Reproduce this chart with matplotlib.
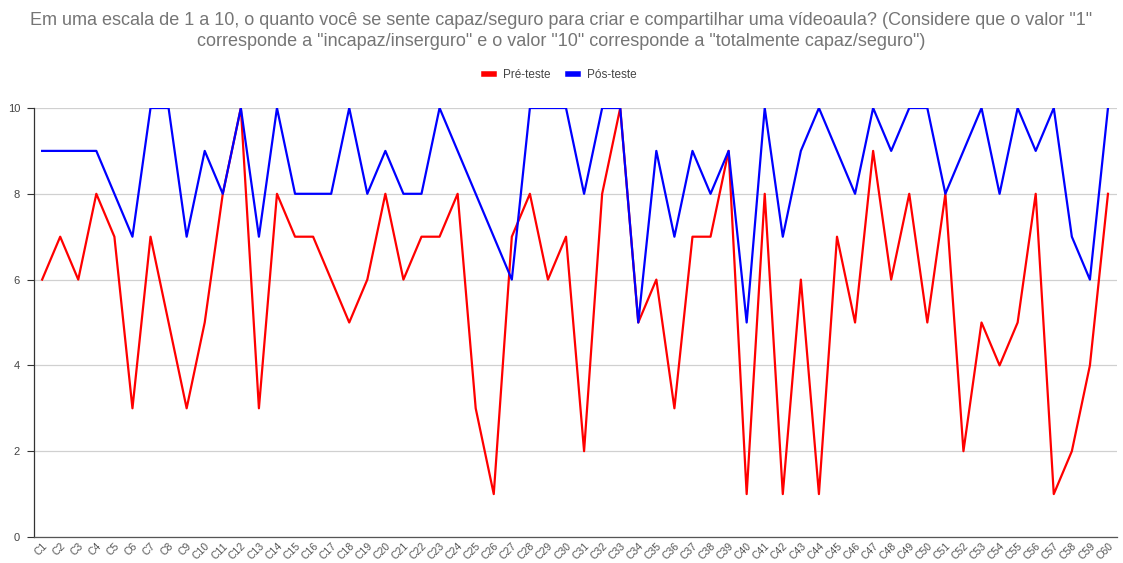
import matplotlib.pyplot as plt
import numpy as np

plt.rcParams['font.family'] = ['Liberation Sans', 'DejaVu Sans']

categories = ['C%d' % i for i in range(1, 61)]
pre_teste = [6, 7, 6, 8, 7, 3, 7, 5, 3, 5, 8, 10, 3, 8, 7, 7, 6, 5, 6, 8,
             6, 7, 7, 8, 3, 1, 7, 8, 6, 7, 2, 8, 10, 5, 6, 3, 7, 7, 9, 1,
             8, 1, 6, 1, 7, 5, 9, 6, 8, 5, 8, 2, 5, 4, 5, 8, 1, 2, 4, 8]
pos_teste = [9, 9, 9, 9, 8, 7, 10, 10, 7, 9, 8, 10, 7, 10, 8, 8, 8, 10, 8, 9,
             8, 8, 10, 9, 8, 7, 6, 10, 10, 10, 8, 10, 10, 5, 9, 7, 9, 8, 9, 5,
             10, 7, 9, 10, 9, 8, 10, 9, 10, 10, 8, 9, 10, 8, 10, 9, 10, 7, 6, 10]
y_ticks = [0, 2, 4, 6, 8, 10]

title = ('Em uma escala de 1 a 10, o quanto você se sente capaz/seguro para criar e compartilhar uma vídeoaula? '
         '(Considere que o valor "1"\ncorresponde a "incapaz/inserguro" e o valor "10" corresponde a "totalmente capaz/seguro")')

fig = plt.figure(figsize=(11.23, 5.63), dpi=100)
ax = fig.add_axes([34 / 1123, 1 - 537 / 563, (1117 - 34) / 1123, 429 / 563])

x = np.arange(len(categories))
ax.plot(x, pre_teste, color='#ff0000', lw=1.6, label='Pré-teste', zorder=3)
ax.plot(x, pos_teste, color='#0000ff', lw=1.6, label='Pós-teste', zorder=3)

ax.set_xlim(-0.45, len(categories) - 0.5)
ax.set_ylim(0, 10)
ax.set_yticks(y_ticks)
ax.set_xticks(x)
ax.set_xticklabels(categories, rotation=45, ha='right', rotation_mode='anchor',
                   fontsize=7.5, color='#555555')
ax.tick_params(axis='x', length=0, pad=3)
ax.tick_params(axis='y', length=5, width=0.8, color='#333333', labelsize=8,
               labelcolor='#444444', pad=5)
ax.grid(axis='y', color='#d0d0d0', lw=0.9, zorder=0)
ax.set_axisbelow(True)
for s in ['top', 'right']:
    ax.spines[s].set_visible(False)
ax.spines['left'].set_color('#333333')
ax.spines['bottom'].set_color('#555555')
ax.spines['left'].set_linewidth(0.9)
ax.spines['bottom'].set_linewidth(0.9)

fig.text(0.5, 1 - 31 / 563, title, ha='center', va='center', fontsize=13,
         color='#757575', linespacing=1.35)

ax.legend(loc='center', bbox_to_anchor=(560 / 1123, 1 - 75 / 563),
          bbox_transform=fig.transFigure, ncol=2, frameon=False, fontsize=8.5,
          handlelength=0.9, handleheight=0.5, columnspacing=1.5, handletextpad=0.7,
          labelcolor='#444444')
leg = ax.get_legend()
for h in leg.get_lines():
    h.set_linewidth(4)

fig.savefig('out.png', dpi=100)
